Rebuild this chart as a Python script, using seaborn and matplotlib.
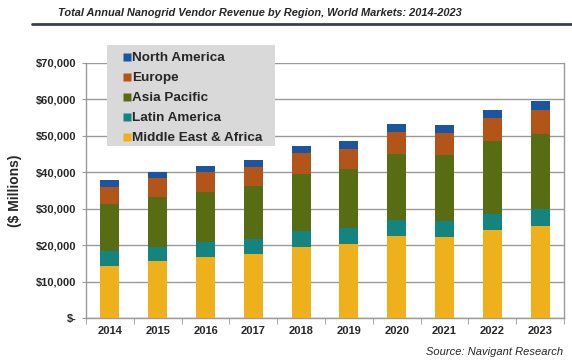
import matplotlib
matplotlib.use("Agg")
import matplotlib.pyplot as plt
from matplotlib.lines import Line2D
from matplotlib.patches import Rectangle
from matplotlib.ticker import FuncFormatter, MultipleLocator
import seaborn as sns
import pandas as pd
import numpy as np

years = ["2014", "2015", "2016", "2017", "2018", "2019", "2020", "2021", "2022", "2023"]
mea = [14.3, 15.6, 16.7, 17.7, 19.6, 20.3, 22.5, 22.2, 24.2, 25.2]
latam = [4.1, 4.0, 4.1, 4.1, 4.3, 4.4, 4.5, 4.5, 4.4, 4.8]
apac = [12.8, 13.7, 13.9, 14.5, 15.5, 16.1, 17.9, 18.0, 19.9, 20.4]
europe = [4.8, 5.0, 5.3, 5.1, 5.8, 5.5, 6.1, 6.0, 6.3, 6.7]
n_america = [1.8, 1.8, 1.8, 2.1, 2.0, 2.3, 2.3, 2.3, 2.4, 2.5]

regions = ["Middle East & Africa", "Latin America", "Asia Pacific", "Europe", "North America"]
colors = ["#eeb11c", "#13847f", "#586c14", "#b35418", "#1a55a0"]

df = pd.DataFrame({"year": years, "Middle East & Africa": mea, "Latin America": latam,
                   "Asia Pacific": apac, "Europe": europe, "North America": n_america})
# values are in thousands of $ millions
cum = df[regions].cumsum(axis=1) * 1000
cum["year"] = df["year"]

sns.set_style("white")
plt.rcParams["font.family"] = ["Liberation Sans", "DejaVu Sans"]

W, H = 572, 363
fig = plt.figure(figsize=(5.72, 3.63), dpi=100)
ax = fig.add_axes([86 / W, 1 - 318 / H, 478 / W, 255 / H])

# stacked bars: draw tallest cumulative first, smaller ones on top
for reg, col in reversed(list(zip(regions, colors))):
    sns.barplot(data=cum, x="year", y=reg, color=col, width=0.4, saturation=1,
                edgecolor="none", ax=ax, zorder=3)

ax.set_ylim(0, 70000)
ax.set_xlim(-0.5, len(years) - 0.5)
ax.yaxis.set_major_locator(MultipleLocator(10000))
ax.yaxis.set_major_formatter(FuncFormatter(lambda v, p: "$-" if v == 0 else f"${v:,.0f}"))
ax.grid(axis="y", color="#9a9a9a", linewidth=1, zorder=0)
ax.set_xlabel("")
ax.set_ylabel("($ Millions)", fontsize=10, fontweight="bold", labelpad=10)

ax.spines["top"].set_visible(False)
for s in ["left", "bottom", "right"]:
    ax.spines[s].set_color("#9a9a9a")
    ax.spines[s].set_linewidth(1)

ax.tick_params(axis="y", length=3, color="#9a9a9a", left=True, labelsize=8, pad=4)
ax.tick_params(axis="x", length=0, labelsize=8, pad=6)
for lbl in ax.get_xticklabels() + ax.get_yticklabels():
    lbl.set_fontweight("bold")
# small tick marks between categories
ax.set_xticks(np.arange(-0.5, len(years)), minor=True)
ax.tick_params(axis="x", which="minor", length=4, color="#9a9a9a", bottom=True, direction="out")

# legend box
fig.add_artist(Rectangle((107 / W, 1 - 146 / H), 168 / W, 101 / H, transform=fig.transFigure,
                         facecolor="#d9d9d9", edgecolor="none", zorder=4))
handles = [Line2D([0], [0], marker="s", linestyle="none", markersize=6,
                  markerfacecolor=c, markeredgecolor="none")
           for c in reversed(colors)]
leg = fig.legend(handles, list(reversed(regions)), loc="upper left",
                 bbox_to_anchor=(122 / W, 1 - 52 / H), frameon=False,
                 prop={"weight": "bold", "size": 9.7}, handletextpad=0.05,
                 handlelength=0.7, labelspacing=0.56, borderpad=0, borderaxespad=0)
leg.set_zorder(5)

fig.text(58 / W, 1 - 13 / H, "Total Annual Nanogrid Vendor Revenue by Region, World Markets: 2014-2023",
         ha="left", va="center", fontsize=7.9, fontweight="bold", fontstyle="italic")
fig.add_artist(Line2D([32 / W, 1], [1 - 24 / H, 1 - 24 / H], color="#3a3c5a",
                      linewidth=2, transform=fig.transFigure))
fig.text(563 / W, 1 - 352 / H, "Source: Navigant Research", ha="right", va="center",
         fontsize=8, fontstyle="italic")

fig.savefig("out.png", dpi=100)
